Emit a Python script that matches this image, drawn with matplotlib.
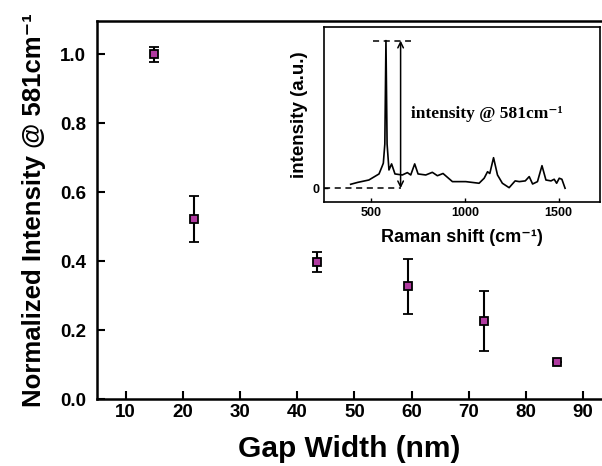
import numpy as np
import matplotlib
matplotlib.use("Agg")
import matplotlib.pyplot as plt

plt.rcParams['font.family'] = ['Liberation Sans', 'DejaVu Sans']
plt.rcParams['font.weight'] = 'bold'

# main data: gap width vs normalized intensity
gap = [15, 22, 43.5, 59.3, 72.7, 85.4]
inten = [1.0, 0.522, 0.398, 0.327, 0.227, 0.108]
err = [0.022, 0.066, 0.03, 0.08, 0.087, 0.0]

# inset spectrum (peak normalized to 1)
shift = [392, 430, 489, 543, 560, 566, 574, 580, 586, 596, 610, 628, 667, 694, 712, 733, 751,
         792, 827, 854, 884, 934, 1005, 1076, 1103, 1121, 1133, 1153, 1174, 1200, 1236,
         1268, 1290, 1322, 1343, 1361, 1387, 1411, 1432, 1459, 1476, 1489, 1503, 1517, 1534]
spec = [0.027, 0.04, 0.056, 0.097, 0.15, 0.17, 0.3, 1.0, 0.3, 0.124, 0.165, 0.097, 0.09, 0.106, 0.09, 0.165, 0.097,
        0.09, 0.108, 0.085, 0.10, 0.045, 0.045, 0.034, 0.068, 0.112, 0.10, 0.207, 0.09, 0.034, 0.004,
        0.05, 0.045, 0.05, 0.079, 0.029, 0.045, 0.153, 0.056, 0.05, 0.061, 0.034, 0.068, 0.061, 0.0]

fig = plt.figure(figsize=(6.02, 4.66), dpi=100)
ax = fig.add_axes([97/602, 67/466, 505/602, 378/466])
ax.errorbar(gap, inten, yerr=err, fmt='s', color='black', ecolor='black', elinewidth=1.5,
            capsize=3.5, capthick=1.5, markersize=5.5, markerfacecolor='#b03aa0',
            markeredgecolor='black', markeredgewidth=1.3)
ax.set_xlim(5, 93.3)
ax.set_ylim(0, 1.097)
ax.set_xticks(range(10, 100, 10))
ax.set_yticks([0.0, 0.2, 0.4, 0.6, 0.8, 1.0])
ax.set_yticklabels(['0.0', '0.2', '0.4', '0.6', '0.8', '1.0'])
ax.tick_params(direction='in', length=6, width=1.5, labelsize=13.5, top=False, right=False)
ax.tick_params(axis='y', pad=8)
for s in ['left', 'bottom', 'top']:
    ax.spines[s].set_linewidth(1.8)
ax.spines['right'].set_visible(False)
ax.set_xlabel('Gap Width (nm)', fontsize=21.5, fontweight='bold', labelpad=10)
ax.set_ylabel('Normalized Intensity @ 581cm\u207b\u00b9', fontsize=18.5, fontweight='bold', labelpad=10)

# inset
ins = fig.add_axes([324/602, 263.7/466, 276/602, 175/466])
ins.plot(shift, spec, color='black', lw=1.2)
ins.set_xlim(250, 1720)
ins.set_ylim(-0.095, 1.09)
ins.set_xticks([500, 1000, 1500])
ins.set_yticks([0])
ins.tick_params(direction='in', length=3, width=1, labelsize=9)
for s in ins.spines.values():
    s.set_linewidth(1.2)
ins.plot([250, 658], [0, 0], 'k--', lw=1.1, dashes=(4, 3))
ins.plot([511, 712], [1.0, 1.0], 'k--', lw=1.1, dashes=(4, 3))
ins.annotate('', xy=(658, 1.0), xytext=(658, 0.0),
             arrowprops=dict(arrowstyle='<->', color='black', lw=1.1, shrinkA=0, shrinkB=0))
ins.text(712, 0.5, 'intensity @ 581cm\u207b\u00b9', fontsize=12.5, fontweight='bold',
         family=['Liberation Serif', 'DejaVu Serif'], va='center', ha='left')
ins.set_xlabel('Raman shift (cm\u207b\u00b9)', fontsize=13, fontweight='bold', labelpad=7)
ins.set_ylabel('intensity (a.u.)', fontsize=13.5, fontweight='bold', labelpad=3)

fig.savefig('out.png', dpi=100)
